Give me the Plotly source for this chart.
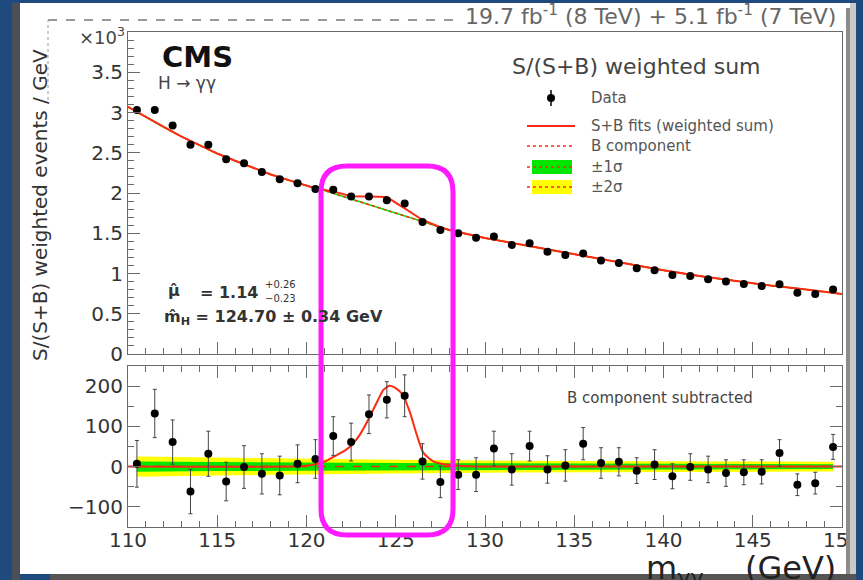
import plotly.graph_objects as go

W, H = 863, 580

# ---------------- data ----------------
mass_bins = [110.5 + i for i in range(40)]
top_data = [3.03, 3.03, 2.84, 2.60, 2.60, 2.42, 2.37, 2.26, 2.17, 2.12,
            2.05, 2.04, 1.955, 1.955, 1.91, 1.87, 1.64, 1.54, 1.50, 1.445,
            1.46, 1.355, 1.375, 1.27, 1.23, 1.25, 1.16, 1.13, 1.065, 1.04,
            0.98, 0.97, 0.93, 0.90, 0.87, 0.845, 0.865, 0.76, 0.745, 0.80]

bkg_x = [110, 111, 112, 113, 114, 115, 116, 117, 118, 119, 120, 121, 122, 123,
         124, 125, 126, 127, 128, 129, 130, 132, 134, 136, 138, 140, 142, 144,
         146, 148, 150]
bkg_y = [3.07, 2.94, 2.82, 2.70, 2.59, 2.49, 2.40, 2.31, 2.23, 2.16, 2.09, 2.03,
         1.96, 1.89, 1.82, 1.75, 1.68, 1.61, 1.54, 1.49, 1.44, 1.36, 1.28, 1.20,
         1.12, 1.04, 0.97, 0.91, 0.85, 0.80, 0.745]

bump_x = [120.5, 121.5, 122.5, 123.5, 124.5, 125.5, 126.5, 127.5]
bump_y = [2.06, 2.02, 1.96, 1.955, 1.95, 1.81, 1.665, 1.575]

sub_data = [7, 132, 61, -62, 32, -37, -1, -18, -22, 7,
            19, 76, 61, 130, 166, 176, 13, -38, -20, -20,
            45, -7, 51, -7, 3, 57, 9, 12, -10, 5,
            -24, -1, -7, -16, -14, -13, 34, -45, -41, 49]
sub_err = [58, 60, 55, 55, 56, 48, 53, 50, 48, 47,
           48, 48, 47, 48, 45, 52, 44, 39, 37, 42,
           43, 39, 37, 34, 39, 40, 38, 35, 32, 37,
           31, 33, 33, 33, 31, 30, 33, 27, 27, 31]

sig_x = [110, 119, 120, 120.5, 121, 121.5, 122, 122.5, 123, 123.5, 124, 124.3,
         124.65, 125, 125.4, 125.8, 126.2, 126.55, 127.1, 127.8, 128.5, 130, 150]
sig_y = [0, 0, 2, 6, 12, 24, 36, 52, 80, 120, 165, 190,
         201, 195, 178, 134, 76, 34, 13, 5, 2, 0, 0]

band_x = [110.5, 115, 120, 125, 130, 135, 140, 145, 149.5]
band_2s = [25, 22, 19, 17, 15, 14, 13, 12.5, 12]
band_1s = [13, 11, 10, 9, 8, 7, 7, 6.5, 6]

x_ticks = [110, 115, 120, 125, 130, 135, 140, 145, 150]
top_ticks = [0, 0.5, 1, 1.5, 2, 2.5, 3, 3.5]
bot_ticks = [-100, 0, 100, 200]

# ---------------- helpers ----------------
def fx(p):
    return p / W

def fy(p):
    return 1 - p / H

RED = "#ff2a12"
GREEN = "#00e600"
YELLOW = "#ffff00"
FONT = "DejaVu Sans"

# derived S+B curve for the upper panel
sb_x = [x for x in bkg_x if x <= 120] + bump_x + [x for x in bkg_x if x >= 128]
sb_y = [y for x, y in zip(bkg_x, bkg_y) if x <= 120] + bump_y + \
       [y for x, y in zip(bkg_x, bkg_y) if x >= 128]

fig = go.Figure()

# ---- top panel ----
fig.add_trace(go.Scatter(x=bkg_x, y=bkg_y, mode="lines", xaxis="x", yaxis="y",
                         line=dict(color=GREEN, width=1.5), showlegend=False))
fig.add_trace(go.Scatter(x=bkg_x, y=bkg_y, mode="lines", xaxis="x", yaxis="y",
                         line=dict(color=RED, width=1.5, dash="dot"), showlegend=False))
fig.add_trace(go.Scatter(x=sb_x, y=sb_y, mode="lines", xaxis="x", yaxis="y",
                         line=dict(color=RED, width=2), showlegend=False))
fig.add_trace(go.Scatter(x=mass_bins, y=top_data, mode="markers", xaxis="x", yaxis="y",
                         marker=dict(color="black", size=8), showlegend=False))

# ---- bottom panel ----
fig.add_trace(go.Scatter(x=band_x + band_x[::-1],
                         y=band_2s + [-v for v in band_2s[::-1]],
                         fill="toself", fillcolor=YELLOW, line=dict(width=0),
                         mode="lines", xaxis="x2", yaxis="y2", showlegend=False))
fig.add_trace(go.Scatter(x=band_x + band_x[::-1],
                         y=band_1s + [-v for v in band_1s[::-1]],
                         fill="toself", fillcolor=GREEN, line=dict(width=0),
                         mode="lines", xaxis="x2", yaxis="y2", showlegend=False))
fig.add_trace(go.Scatter(x=[110.5, 149.5], y=[0, 0], mode="lines", xaxis="x2", yaxis="y2",
                         line=dict(color=RED, width=1.5, dash="dash"), showlegend=False))
fig.add_trace(go.Scatter(x=sig_x, y=sig_y, mode="lines", xaxis="x2", yaxis="y2",
                         line=dict(color=RED, width=2, shape="spline", smoothing=0.6),
                         showlegend=False))
fig.add_trace(go.Scatter(x=mass_bins, y=sub_data, mode="markers", xaxis="x2", yaxis="y2",
                         marker=dict(color="black", size=8),
                         error_y=dict(type="data", array=sub_err, color="#444",
                                      thickness=1, width=2),
                         showlegend=False))

# ---------------- axes ----------------
xdom = [fx(128), fx(842)]
axcol = "#6a6a6a"
tickfont = dict(family=FONT, size=20, color="#333")

common_x = dict(domain=xdom, range=[110, 150], tickvals=x_ticks, ticks="inside",
                ticklen=12, tickcolor=axcol, showline=True, linecolor=axcol,
                linewidth=1, showgrid=False, zeroline=False, automargin=False,
                minor=dict(dtick=1, tick0=110, ticks="inside", ticklen=6, tickcolor=axcol))

fig.update_layout(
    width=W, height=H,
    margin=dict(l=0, r=0, t=0, b=0, pad=0, autoexpand=False),
    paper_bgcolor="#1f4a7e",
    plot_bgcolor="rgba(0,0,0,0)",
    showlegend=False,
    font=dict(family=FONT, color="#333"),
    xaxis=dict(**common_x, anchor="y", showticklabels=False, mirror=True),
    yaxis=dict(domain=[fy(354), fy(32)], range=[0, 4], tickvals=top_ticks,
               ticks="inside", ticklen=12, tickcolor=axcol, showline=True,
               linecolor=axcol, mirror=True, showgrid=False, zeroline=False,
               tickfont=tickfont, anchor="x", automargin=False,
               minor=dict(dtick=0.1, tick0=0, ticks="inside", ticklen=6, tickcolor=axcol)),
    xaxis2=dict(**common_x, anchor="y2", mirror="ticks", tickfont=tickfont,
                ticklabelstandoff=-5),
    yaxis2=dict(domain=[fy(527), fy(366)], range=[-150, 250], tickvals=bot_ticks,
                ticks="inside", ticklen=12, tickcolor=axcol, showline=True,
                linecolor=axcol, mirror="ticks", showgrid=False, zeroline=False,
                tickfont=tickfont, anchor="x2", automargin=False,
                minor=dict(dtick=50, tick0=0, ticks="inside", ticklen=6, tickcolor=axcol)),
)

# ---------------- shapes ----------------
shapes = []
# paper sheet
shapes.append(dict(type="rect", xref="paper", yref="paper", layer="below",
                   x0=fx(20), x1=fx(851), y0=fy(574), y1=fy(3),
                   fillcolor="white", line=dict(width=0)))
shapes.append(dict(type="rect", xref="paper", yref="paper", layer="below",
                   x0=fx(12), x1=fx(20), y0=0, y1=fy(3),
                   fillcolor="#4a4f58", line=dict(width=0)))
# torn right edge
shapes.append(dict(type="rect", xref="paper", yref="paper", layer="above",
                   x0=fx(846), x1=fx(850), y0=fy(574), y1=fy(8),
                   fillcolor="#8c8c8c", line=dict(width=0)))
shapes.append(dict(type="rect", xref="paper", yref="paper", layer="above",
                   x0=fx(850), x1=fx(856), y0=fy(574), y1=fy(3),
                   fillcolor="#c9c9c9", line=dict(width=0)))
shapes.append(dict(type="rect", xref="paper", yref="paper", layer="above",
                   x0=fx(856), x1=1, y0=0, y1=1,
                   fillcolor="#1f4a7e", line=dict(width=0)))
# torn bottom edge
shapes.append(dict(type="rect", xref="paper", yref="paper", layer="below",
                   x0=fx(50), x1=fx(856), y0=0, y1=fy(574),
                   fillcolor="#555", line=dict(width=0)))
# dashed remnants at top
shapes.append(dict(type="line", xref="paper", yref="paper", layer="below",
                   x0=fx(48), x1=fx(458), y0=fy(20), y1=fy(20),
                   line=dict(color="#777", width=1.5, dash="dash")))
shapes.append(dict(type="line", xref="paper", yref="paper", layer="below",
                   x0=fx(48), x1=fx(48), y0=fy(100), y1=fy(20),
                   line=dict(color="#999", width=1, dash="dot")))

# legend graphics
shapes.append(dict(type="line", xref="paper", yref="paper",
                   x0=fx(551), x1=fx(551), y0=fy(106), y1=fy(90),
                   line=dict(color="black", width=1.5)))
shapes.append(dict(type="circle", xref="paper", yref="paper",
                   x0=fx(547), x1=fx(555), y0=fy(102), y1=fy(94),
                   fillcolor="black", line=dict(color="black", width=0)))
shapes.append(dict(type="line", xref="paper", yref="paper",
                   x0=fx(527), x1=fx(575), y0=fy(126), y1=fy(126),
                   line=dict(color=RED, width=2)))
shapes.append(dict(type="line", xref="paper", yref="paper",
                   x0=fx(527), x1=fx(575), y0=fy(146), y1=fy(146),
                   line=dict(color=RED, width=1.5, dash="dot")))
shapes.append(dict(type="rect", xref="paper", yref="paper",
                   x0=fx(532), x1=fx(572), y0=fy(174), y1=fy(160),
                   fillcolor=GREEN, line=dict(width=0)))
shapes.append(dict(type="line", xref="paper", yref="paper",
                   x0=fx(527), x1=fx(575), y0=fy(167), y1=fy(167),
                   line=dict(color=RED, width=1.5, dash="dot")))
shapes.append(dict(type="rect", xref="paper", yref="paper",
                   x0=fx(532), x1=fx(572), y0=fy(194), y1=fy(180),
                   fillcolor=YELLOW, line=dict(width=0)))
shapes.append(dict(type="line", xref="paper", yref="paper",
                   x0=fx(527), x1=fx(575), y0=fy(187), y1=fy(187),
                   line=dict(color=RED, width=1.5, dash="dot")))

# magenta rounded highlight box
x0, x1, y0, y1, r = 321, 453, 166, 535, 26
def P(x, y):
    return f"{fx(x):.5f},{fy(y):.5f}"
path = (f"M {P(x0 + r, y0)} L {P(x1 - r, y0)} Q {P(x1, y0)} {P(x1, y0 + r)} "
        f"L {P(x1, y1 - r)} Q {P(x1, y1)} {P(x1 - r, y1)} "
        f"L {P(x0 + r, y1)} Q {P(x0, y1)} {P(x0, y1 - r)} "
        f"L {P(x0, y0 + r)} Q {P(x0, y0)} {P(x0 + r, y0)} Z")
shapes.append(dict(type="path", xref="paper", yref="paper", layer="above",
                   path=path, line=dict(color="#ff1aff", width=5)))

fig.update_layout(shapes=shapes)

# ---------------- text ----------------
def ann(text, x, y, size, color="#333", xanchor="left", yanchor="middle", **kw):
    fig.add_annotation(text=text, xref="paper", yref="paper", x=fx(x), y=fy(y),
                       xanchor=xanchor, yanchor=yanchor, showarrow=False,
                       font=dict(family=FONT, size=size, color=color), **kw)

ann("<b>CMS</b>", 160, 57, 29, "#111")
ann("H → γγ", 156, 83, 17, "#444")
ann("×10<sup>3</sup>", 127, 36, 18, "#444", xanchor="right")
ann("19.7 fb<sup>-1</sup> (8 TeV) + 5.1 fb<sup>-1</sup> (7 TeV)", 650, 15, 22, "#666",
    xanchor="center")
ann("S/(S+B) weighted sum", 636, 67, 22, "#444", xanchor="center")
ann("Data", 589, 98, 15, "#555")
ann("S+B fits (weighted sum)", 589, 126, 15, "#555")
ann("B component", 589, 146, 15, "#555")
ann("±1σ", 589, 167, 15, "#555")
ann("±2σ", 589, 187, 15, "#555")
ann("<b>μ̂</b>", 166, 290, 16, "#333")
ann("<b>= 1.14</b>", 198, 292, 16, "#333")
ann("+0.26", 263, 284, 10, "#333")
ann("−0.23", 263, 298, 10, "#333")
ann("<b>m̂<sub>H</sub> = 124.70 ± 0.34 GeV</b>", 162, 317, 16, "#333")
ann("B component subtracted", 660, 398, 15, "#444", xanchor="center")
ann("S/(S+B) weighted events / GeV", 40, 205, 20, "#333", xanchor="center",
    textangle=-90)
ann("m<sub>γγ</sub>", 644, 547, 32, "#222", yanchor="top")
ann("(GeV)", 838, 547, 32, "#222", xanchor="right", yanchor="top")

fig.write_html("out.html")
